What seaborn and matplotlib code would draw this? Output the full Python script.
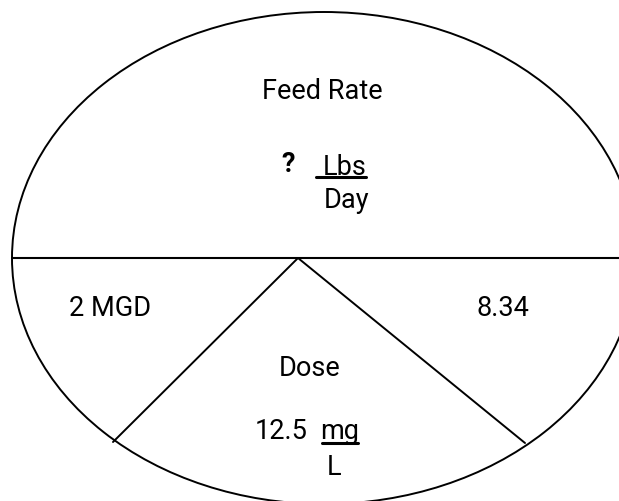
import matplotlib
matplotlib.use("Agg")
from matplotlib import pyplot as plt
from matplotlib.patches import Ellipse
import pandas as pd
import seaborn as sns

# Diagram geometry (pixel-like coordinates, y grows downward)
circle_center = (324, 258)
circle_size = (624, 492)
divider_x = [12, 640]
divider_y = [258, 258]
tri_x = [113, 298, 525]
tri_y = [442, 258, 443]

# Labels (x centre, baseline y)
labels = ['Feed Rate', '?', 'Lbs', 'Day', '2 MGD', '8.34', 'Dose', '12.5', 'mg', 'L']
label_x = [322, 288, 345, 347, 110, 503, 310, 281, 340, 334]
label_y = [99, 172, 175, 208, 316, 316, 376, 439, 439, 475]

# Fraction bars
bar_x = [[316, 366], [322, 358]]
bar_y = [[177, 177], [443, 443]]

sns.set_theme(style='white')
plt.rcParams['font.family'] = ['Roboto', 'DejaVu Sans']

fig = plt.figure(figsize=(6.19, 5.01), dpi=100)
ax = fig.add_axes([0, 0, 1, 1])

ax.add_patch(Ellipse(circle_center, circle_size[0], circle_size[1],
                     fill=False, edgecolor='black', linewidth=1.4))

seg = pd.DataFrame({'x': divider_x, 'y': divider_y})
sns.lineplot(data=seg, x='x', y='y', color='black', linewidth=1.5, ax=ax, sort=False)
tri = pd.DataFrame({'x': tri_x, 'y': tri_y})
sns.lineplot(data=tri, x='x', y='y', color='black', linewidth=1.4, ax=ax, sort=False)

for bx, by in zip(bar_x, bar_y):
    ax.plot(bx, by, color='black', linewidth=2.2)

for t, x, y in zip(labels, label_x, label_y):
    weight = 'bold' if t == '?' else 'normal'
    ax.text(x, y, t, ha='center', va='baseline', fontsize=19.5,
            fontweight=weight, color='black')

ax.set_xlim(0, 619)
ax.set_ylim(501, 0)
ax.axis('off')

fig.savefig('out.png', dpi=100)
